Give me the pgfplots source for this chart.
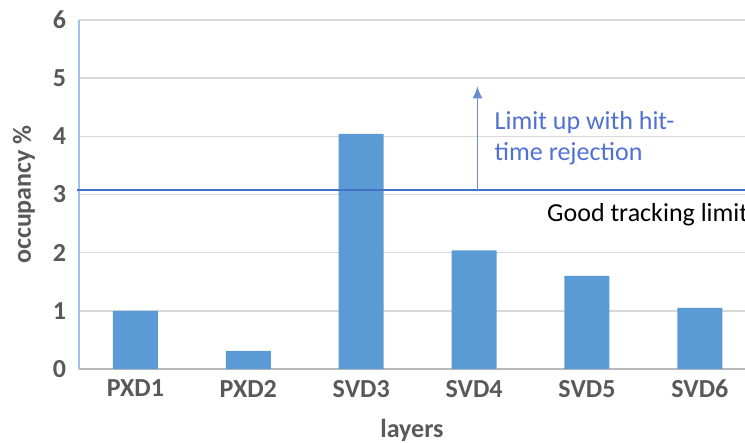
\documentclass[border=0pt]{standalone}
\usepackage{fontspec}
\setmainfont{Carlito}
\usepackage{pgfplots}
\pgfplotsset{compat=1.18}
\usetikzlibrary{arrows.meta}
\definecolor{barblue}{HTML}{5B9BD5}
\definecolor{limitblue}{HTML}{4472C4}
\definecolor{notetext}{RGB}{80,112,212}
\definecolor{ticktext}{HTML}{595959}
\definecolor{gridgray}{HTML}{D9D9D9}
\definecolor{yaxisblue}{HTML}{9DC3E6}
\begin{document}
\begin{tikzpicture}
\begin{axis}[
  name=ax,
  scale only axis,
  width=333pt, height=174.5pt,
  xmin=-0.5, xmax=5.4,
  ymin=0, ymax=6,
  ytick={0,1,...,6},
  xtick={0,1,2,3,4,5},
  xticklabels={PXD1,PXD2,SVD3,SVD4,SVD5,SVD6},
  axis lines=left,
  axis line style={-},
  x axis line style={draw=gray!55, line width=0.8pt},
  y axis line style={draw=yaxisblue, line width=0.8pt},
  ymajorgrids=true,
  grid style={gridgray, line width=0.8pt},
  major tick length=0pt,
  tick label style={font=\fontsize{13}{15}\selectfont\bfseries, text=ticktext},
  xticklabel style={yshift=-2pt},
  yticklabel style={xshift=-3pt},
  xlabel={layers},
  ylabel={occupancy \%},
  label style={font=\fontsize{13}{15}\selectfont\bfseries, text=ticktext},
  xlabel style={yshift=-4pt},
  ylabel style={yshift=2pt},
  clip=false,
  /pgf/number format/assume math mode=true,
]
\addplot[ybar, bar width=22.5pt, fill=barblue, draw=none]
  coordinates {(0,1.0) (1,0.31) (2,4.04) (3,2.04) (4,1.60) (5,1.05)};
% good tracking limit
\addplot[limitblue, line width=1.3pt, no marks]
  coordinates {(-0.52,3.08) (5.4,3.08)};
% arrow: limit up
\addplot[limitblue!80, line width=0.7pt, no marks, -{Latex[length=6pt,width=5pt]}]
  coordinates {(3.03,3.08) (3.03,4.86)};
\node[anchor=west, align=left, text=notetext, font=\fontsize{13}{15.5}\selectfont]
  at (axis cs:3.12,3.97) {Limit up with hit-\\time rejection};
\node[anchor=west, font=\fontsize{13}{15.5}\selectfont]
  at (axis cs:3.585,2.65) {Good tracking limit};
\end{axis}
\pgfresetboundingbox
\useasboundingbox ([xshift=-39.5pt,yshift=-36.5pt]ax.south west) rectangle ([yshift=10pt]ax.north east);
\end{tikzpicture}
\end{document}
